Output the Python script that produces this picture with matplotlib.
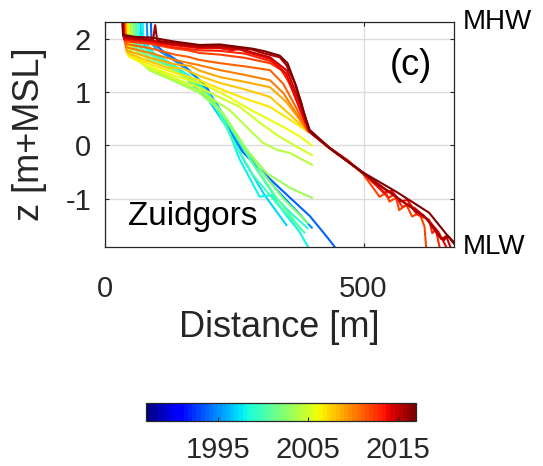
import numpy as np
import matplotlib
matplotlib.use('agg')
import matplotlib.pyplot as plt
from matplotlib import cm
from matplotlib.colors import Normalize

plt.rcParams['font.family'] = ['Liberation Sans', 'DejaVu Sans']
plt.rcParams['axes.unicode_minus'] = False

# cross-shore profiles at Zuidgors, one per survey year (distance [m], z [m+MSL])
x_1994 = [88, 90, 110, 150, 197, 228, 266, 300, 338, 396, 430, 446]
z_1994 = [2.5, 1.95, 1.78, 1.52, 1.09, 0.50, -0.12, -0.45, -0.80, -1.32, -1.72, -1.92]
x_1995 = [80, 82, 100, 140, 180, 215, 257, 300, 332, 370, 400]
z_1995 = [2.5, 2.0, 1.80, 1.55, 1.25, 0.80, 0.05, -0.45, -0.83, -1.22, -1.54]
x_1997 = [68, 70, 97, 130, 174, 200, 235, 270, 310, 351]
z_1997 = [2.5, 1.95, 1.65, 1.52, 1.09, 0.85, 0.35, -0.30, -0.95, -1.49]
x_1998 = [72, 74, 95, 130, 170, 200, 230, 260, 299, 322, 350, 375, 394]
z_1998 = [2.5, 1.98, 1.72, 1.52, 1.25, 0.98, 0.50, -0.25, -0.96, -0.93, -1.30, -1.60, -1.92]
x_1999 = [64, 66, 95, 130, 178, 215, 250, 290, 330, 360, 392]
z_1999 = [2.5, 1.90, 1.70, 1.50, 1.15, 0.75, 0.22, -0.40, -0.98, -1.27, -1.55]
x_2000 = [60, 62, 95, 135, 180, 215, 247, 286, 338, 386]
z_2000 = [2.5, 1.86, 1.66, 1.46, 1.12, 0.72, 0.10, -0.55, -1.15, -1.63]
x_2001 = [58, 60, 92, 135, 182, 220, 255, 290, 335, 380]
z_2001 = [2.5, 1.82, 1.62, 1.44, 1.10, 0.70, 0.15, -0.40, -1.02, -1.58]
x_2002 = [54, 56, 90, 135, 185, 225, 262, 300, 345, 392]
z_2002 = [2.5, 1.80, 1.58, 1.40, 1.05, 0.62, 0.10, -0.45, -1.00, -1.45]
x_2003 = [50, 52, 87, 135, 183, 228, 274, 313, 357, 400]
z_2003 = [2.5, 1.72, 1.40, 1.20, 0.98, 0.61, -0.08, -0.52, -0.79, -0.98]
x_2004 = [48, 50, 87, 135, 183, 241, 305, 332, 357, 400]
z_2004 = [2.5, 1.70, 1.42, 1.22, 1.02, 0.66, 0.05, -0.08, -0.14, -0.36]
x_2005 = [46, 48, 87, 135, 183, 261, 300, 338, 370, 400]
z_2005 = [2.5, 1.68, 1.44, 1.25, 1.08, 0.72, 0.42, 0.16, -0.02, -0.18]
x_2006 = [44, 46, 87, 135, 183, 222, 283, 344, 375, 400]
z_2006 = [2.5, 1.66, 1.47, 1.30, 1.17, 1.00, 0.66, 0.35, 0.18, 0.0]
x_2007 = [42, 44, 87, 135, 183, 222, 270, 319, 355, 394]
z_2007 = [2.5, 1.70, 1.52, 1.36, 1.22, 1.06, 0.88, 0.72, 0.50, 0.25]
x_2008 = [40, 42, 87, 120, 150, 183, 222, 270, 319, 355, 393]
z_2008 = [2.5, 1.74, 1.57, 1.46, 1.44, 1.30, 1.17, 1.05, 0.91, 0.60, 0.26]
x_2009 = [39, 41, 87, 135, 165, 183, 222, 270, 319, 350, 375, 392]
z_2009 = [2.5, 1.78, 1.64, 1.52, 1.49, 1.40, 1.28, 1.19, 1.09, 0.82, 0.50, 0.27]
x_2010 = [38, 40, 87, 135, 183, 222, 270, 319, 345, 370, 392]
z_2010 = [2.5, 1.84, 1.73, 1.60, 1.50, 1.41, 1.32, 1.22, 0.98, 0.60, 0.27]
x_2011 = [37, 39, 87, 135, 160, 183, 222, 270, 319, 345, 370, 392]
z_2011 = [2.5, 1.90, 1.82, 1.70, 1.66, 1.60, 1.54, 1.48, 1.41, 1.15, 0.70, 0.27]
x_2012 = [36, 38, 87, 130, 160, 183, 222, 270, 319, 340, 355, 370, 382, 394, 434, 470, 498,
          531, 544, 550, 563, 569, 583, 594, 608, 618, 621]
z_2012 = [2.5, 1.95, 1.90, 1.82, 1.78, 1.73, 1.70, 1.64, 1.54, 1.42, 1.20, 0.85, 0.55, 0.27, -0.05, -0.30, -0.52,
          -0.96, -0.89, -1.05, -0.98, -1.21, -1.11, -1.33, -1.26, -1.52, -1.90]
x_2013 = [35, 37, 87, 130, 183, 222, 250, 270, 319, 345, 360, 376, 394, 434, 470, 510,
          530, 548, 560, 575, 590, 605, 627, 633, 640, 647]
z_2013 = [2.5, 1.98, 1.93, 1.84, 1.78, 1.77, 1.74, 1.72, 1.58, 1.38, 1.10, 0.70, 0.27, -0.04, -0.28, -0.62,
          -0.80, -0.98, -0.92, -1.15, -1.10, -1.30, -1.39, -1.64, -1.58, -1.90]
x_2014 = [35, 37, 87, 130, 183, 222, 245, 260, 270, 319, 350, 365, 380, 395, 434, 470, 500,
          540, 555, 570, 585, 600, 615, 630, 645, 660]
z_2014 = [2.5, 2.00, 1.95, 1.88, 1.82, 1.82, 1.78, 1.81, 1.76, 1.62, 1.35, 1.00, 0.62, 0.26, -0.05, -0.30, -0.52,
          -0.88, -0.85, -1.05, -1.02, -1.25, -1.30, -1.45, -1.62, -1.90]
x_2015 = [34, 36, 87, 130, 183, 222, 270, 319, 352, 368, 383, 396, 434, 498,
          530, 560, 580, 600, 621, 640, 650, 660, 668]
z_2015 = [2.5, 2.02, 1.97, 1.90, 1.84, 1.84, 1.78, 1.65, 1.40, 1.02, 0.64, 0.26, -0.05, -0.50,
          -0.75, -0.94, -1.08, -1.18, -1.36, -1.58, -1.75, -1.70, -1.90]
x_2016 = [33, 35, 60, 93, 97, 101, 130, 183, 222, 286, 305, 338, 351, 367, 380, 390, 396,
          434, 498, 563, 621, 647, 656, 662, 675]
z_2016 = [2.5, 2.05, 2.00, 1.98, 2.25, 1.96, 1.92, 1.86, 1.87, 1.79, 1.73, 1.65, 1.50, 1.17, 0.79, 0.42, 0.25,
          -0.05, -0.51, -0.96, -1.36, -1.71, -1.77, -1.68, -1.81]
x_2017 = [33, 35, 60, 90, 130, 183, 222, 286, 310, 338, 353, 370, 383, 396, 434, 498, 564, 627, 676]
z_2017 = [2.5, 2.07, 2.03, 2.02, 1.95, 1.88, 1.89, 1.81, 1.76, 1.68, 1.54, 1.10, 0.66, 0.29,
          -0.04, -0.50, -0.87, -1.26, -1.85]

profiles = [
    (1994, x_1994, z_1994), (1995, x_1995, z_1995), (1997, x_1997, z_1997),
    (1998, x_1998, z_1998), (1999, x_1999, z_1999), (2000, x_2000, z_2000),
    (2001, x_2001, z_2001), (2002, x_2002, z_2002), (2003, x_2003, z_2003),
    (2004, x_2004, z_2004), (2005, x_2005, z_2005), (2006, x_2006, z_2006),
    (2007, x_2007, z_2007), (2008, x_2008, z_2008), (2009, x_2009, z_2009),
    (2010, x_2010, z_2010), (2011, x_2011, z_2011), (2012, x_2012, z_2012),
    (2013, x_2013, z_2013), (2014, x_2014, z_2014), (2015, x_2015, z_2015),
    (2016, x_2016, z_2016), (2017, x_2017, z_2017),
]

year_min, year_max = 1987, 2017
cbar_ticks = [1995, 2005, 2015]
MHW, MLW = 2.31, -1.9

dark = '#262626'
cmap = plt.get_cmap('jet', 64)
norm = Normalize(year_min, year_max)

fig = plt.figure(figsize=(5.43, 4.66), dpi=100)
ax = fig.add_axes([0.1934, 0.470, 0.6427, 0.4828])

for year, xs, zs in profiles:
    ax.plot(xs, zs, color=cmap(norm(year)), lw=1.5, zorder=2)

ax.set_xlim([0, 675])
ax.set_ylim([MLW, MHW])
ax.set_xticks([0, 500])
ax.set_yticks([-1, 0, 1, 2])
ax.grid(True, color='#dcdcdc', lw=1.0, zorder=0)
ax.set_axisbelow(True)
ax.tick_params(direction='in', length=3, width=0.8, colors=dark, labelsize=21,
               top=True, right=True)
ax.tick_params(axis='x', pad=20)
ax.tick_params(axis='y', pad=10)
for sp in ax.spines.values():
    sp.set_color(dark)
    sp.set_linewidth(0.9)

ax.set_xlabel('Distance [m]', fontsize=26, color=dark, va='top')
ax.xaxis.set_label_coords(0.5, -0.28)
ax.set_ylabel('z [m+MSL]', fontsize=26, color=dark)
ax.yaxis.set_label_coords(-0.165, 0.5)

ax.text(592, 1.5, '(c)', fontsize=26, color='k', ha='center', va='center')
ax.text(44, -1.49, 'Zuidgors', fontsize=24, color='k', ha='left', va='baseline')
ax.text(1.026, 1.0, 'MHW', transform=ax.transAxes, fontsize=20, color='k',
        ha='left', va='center')
ax.text(1.026, 0.0, 'MLW', transform=ax.transAxes, fontsize=20, color='k',
        ha='left', va='center')

cax = fig.add_axes([0.2683, 0.0972, 0.4972, 0.038])
sm = cm.ScalarMappable(norm=norm, cmap=cmap)
cb = fig.colorbar(sm, cax=cax, orientation='horizontal')
cb.set_ticks(cbar_ticks)
cb.outline.set_edgecolor(dark)
cb.outline.set_linewidth(0.9)
cax.tick_params(direction='in', length=3, width=0.8, colors=dark, labelsize=21, pad=11)

plt.savefig('out.png', dpi=100)
plt.close()
